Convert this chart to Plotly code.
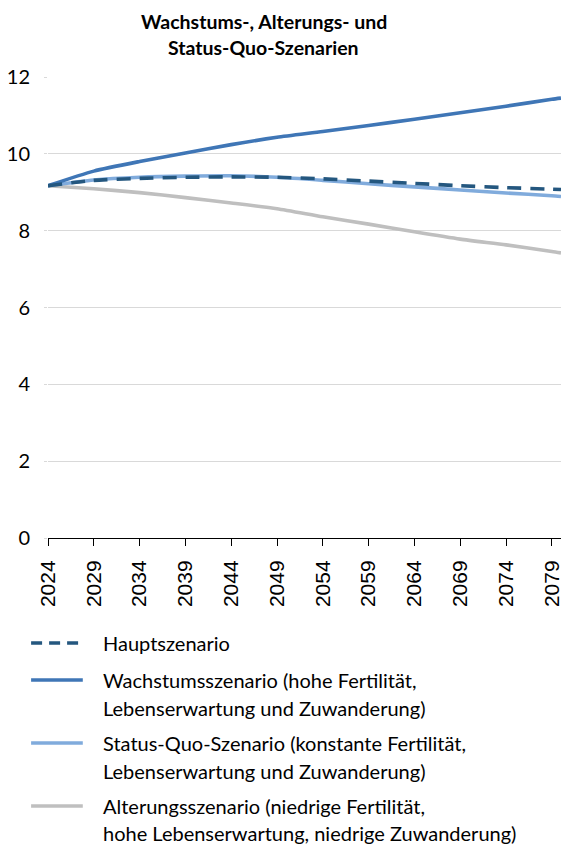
import plotly.graph_objects as go

# ---------------- data ----------------
years = [2024, 2029, 2034, 2039, 2044, 2049, 2054, 2059, 2064, 2069, 2074, 2079, 2080]
haupt = [9.17, 9.31, 9.36, 9.39, 9.40, 9.39, 9.35, 9.29, 9.23, 9.17, 9.12, 9.08, 9.07]
wachstum = [9.17, 9.55, 9.80, 10.02, 10.24, 10.43, 10.58, 10.74, 10.90, 11.07, 11.24, 11.42, 11.45]
statusquo = [9.17, 9.32, 9.39, 9.42, 9.43, 9.39, 9.31, 9.22, 9.14, 9.06, 8.98, 8.91, 8.89]
alterung = [9.17, 9.09, 8.99, 8.86, 8.72, 8.57, 8.36, 8.17, 7.97, 7.78, 7.63, 7.46, 7.42]

tick_years = [2024, 2029, 2034, 2039, 2044, 2049, 2054, 2059, 2064, 2069, 2074, 2079]
y_ticks = [0, 2, 4, 6, 8, 10, 12]

title_lines = ["Wachstums-, Alterungs- und", "Status-Quo-Szenarien"]
legend_names = [
    ["Hauptszenario"],
    ["Wachstumsszenario (hohe Fertilität,", "Lebenserwartung und Zuwanderung)"],
    ["Status-Quo-Szenario (konstante Fertilität,", "Lebenserwartung und Zuwanderung)"],
    ["Alterungsszenario (niedrige Fertilität,", "hohe Lebenserwartung, niedrige Zuwanderung)"],
]

# ---------------- styles ----------------
W, H = 570, 844
ML, MR, MT, MB = 47, 7, 77, 306
PW = W - ML - MR
PH = H - MT - MB

c_haupt = "#24577f"
c_wachs = "#3f76b6"
c_status = "#80abdc"
c_alter = "#bfbfbf"
LW = 3.6

def pxx(px):
    return (px - ML) / PW

def pxy(py):
    return (H - MB - py) / PH

series = [
    (haupt, c_haupt, "14px,9px"),
    (wachstum, c_wachs, "solid"),
    (statusquo, c_status, "solid"),
    (alterung, c_alter, "solid"),
]

fig = go.Figure()
for idx in [3, 2, 1, 0]:
    vals, col, dash = series[idx]
    fig.add_trace(go.Scatter(
        x=years, y=vals, mode="lines",
        line=dict(color=col, width=LW, dash=dash, shape="spline", smoothing=0.6),
        name=legend_names[idx][0], showlegend=False, hoverinfo="skip",
    ))

fig.update_layout(
    width=W, height=H,
    margin=dict(l=ML, r=MR, t=MT, b=MB),
    paper_bgcolor="white", plot_bgcolor="white",
    showlegend=False,
    font=dict(family="Lato", color="#000000"),
)

fig.update_xaxes(
    range=[2024, 2080], tickmode="array", tickvals=tick_years,
    ticktext=[str(t) for t in tick_years],
    tickangle=-90, ticks="outside", ticklen=7, tickcolor="#000000", tickwidth=1,
    showline=True, linecolor="#000000", linewidth=1,
    showgrid=False, zeroline=False,
    tickfont=dict(family="Liberation Sans", size=21, color="#000000"),
    ticklabelstandoff=6,
)
fig.update_yaxes(
    range=[0, 12], tickmode="array", tickvals=y_ticks,
    ticktext=[str(v) for v in y_ticks],
    showgrid=True, gridcolor="#d9d9d9", gridwidth=1,
    ticks="outside", ticklen=3, tickcolor="#d9d9d9",
    showline=False, zeroline=False,
    tickfont=dict(family="Lato", size=20, color="#000000"),
    ticklabelstandoff=10,
)

for t, yy in zip(title_lines, [22, 47]):
    fig.add_annotation(
        x=pxx(264), y=pxy(yy), xref="paper", yref="paper",
        text="<b>" + t + "</b>", showarrow=False,
        xanchor="center", yanchor="middle",
        font=dict(family="Lato", size=19.5, color="#000000"),
    )

sample_y = [643, 680, 743, 806]
line_rows = [[643], [680, 708], [743, 771], [806, 833]]
for k, (vals, col, dash) in enumerate(series):
    fig.add_shape(
        type="line", xref="paper", yref="paper",
        x0=pxx(30), x1=pxx(82), y0=pxy(sample_y[k]), y1=pxy(sample_y[k]),
        line=dict(color=col, width=LW, dash=("11px,7px" if dash != "solid" else "solid")),
    )
    for txt, yy in zip(legend_names[k], line_rows[k]):
        fig.add_annotation(
            x=pxx(100), y=pxy(yy), xref="paper", yref="paper",
            text=txt, showarrow=False, xanchor="left", yanchor="middle",
            font=dict(family="Lato", size=20, color="#000000"),
        )

fig.write_html(
    "out.html",
    config={"displayModeBar": False, "staticPlot": True},
    post_script="document.body.style.margin='0';document.body.style.overflow='hidden';",
)
